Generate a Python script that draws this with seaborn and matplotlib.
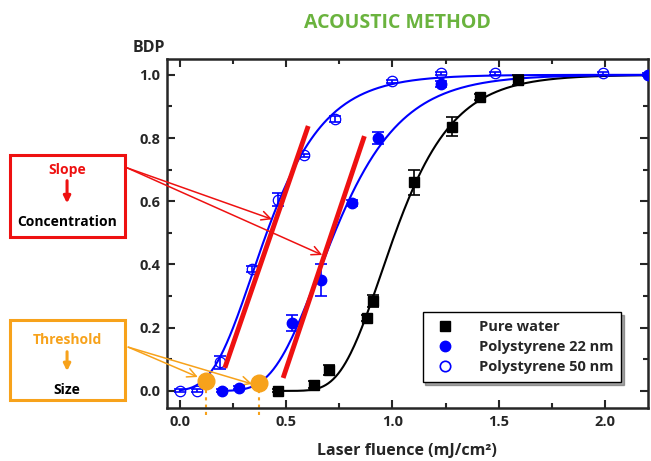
import numpy as np
import pandas as pd
import matplotlib
matplotlib.use("Agg")
import matplotlib.pyplot as plt
from matplotlib.lines import Line2D
from matplotlib.patches import Rectangle
from matplotlib.ticker import MultipleLocator
import seaborn as sns

# Data (BDP vs laser fluence)
water_x = [0.46, 0.63, 0.70, 0.88, 0.91, 1.10, 1.28, 1.41, 1.59]
water_y = [0.00, 0.02, 0.066, 0.23, 0.285, 0.66, 0.835, 0.93, 0.984]
water_err = [0.005, 0.01, 0.015, 0.01, 0.02, 0.04, 0.03, 0.01, 0.015]

ps22_x = [0.20, 0.28, 0.53, 0.665, 0.81, 0.93, 1.23, 2.20]
ps22_y = [0.00, 0.01, 0.215, 0.35, 0.595, 0.80, 0.97, 1.00]
ps22_err = [0.005, 0.005, 0.025, 0.05, 0.01, 0.02, 0.01, 0.005]

ps50_x = [0.00, 0.08, 0.19, 0.34, 0.46, 0.585, 0.73, 1.00, 1.23, 1.48, 1.99]
ps50_y = [0.00, 0.00, 0.09, 0.385, 0.605, 0.745, 0.86, 0.98, 1.005, 1.005, 1.005]
ps50_err = [0.005, 0.005, 0.02, 0.01, 0.02, 0.005, 0.01, 0.005, 0.005, 0.005, 0.005]

# slope tangents and threshold points
slope_x = [[0.212, 0.604], [0.486, 0.868]]
slope_y = [[0.073, 0.838], [0.041, 0.806]]
thresh_x = [0.123, 0.373]
thresh_y = [0.03, 0.025]

BLUE = "#0000ff"
RED = "#ee1111"
ORANGE = "#f7a21b"
GREEN = "#6ab33e"


def gumbel(x, mu, b):
    return np.exp(-np.exp(-(x - mu) / b))


def fit_curve(xs, ys):
    # crude least-squares grid fit of a Gumbel-type CDF
    xs, ys = np.asarray(xs), np.asarray(ys)
    best = None
    for mu in np.linspace(0.0, 1.5, 301):
        for b in np.linspace(0.05, 0.5, 181):
            sse = np.sum((gumbel(xs, mu, b) - ys) ** 2)
            if best is None or sse < best[0]:
                best = (sse, mu, b)
    return best[1], best[2]


sns.set_style("ticks")
plt.rcParams["font.family"] = ["Open Sans", "DejaVu Sans"]
plt.rcParams["font.weight"] = "bold"

fig = plt.figure(figsize=(6.51, 4.61), dpi=100)
ax = fig.add_axes([0.2565, 0.115, 0.7385, 0.757])

series = [
    ("Pure water", water_x, water_y, water_err, "s", "black", "black", 0.46),
    ("Polystyrene 22 nm", ps22_x, ps22_y, ps22_err, "o", BLUE, BLUE, 0.20),
    ("Polystyrene 50 nm", ps50_x, ps50_y, ps50_err, "o", "none", BLUE, 0.0),
]

for name, xs, ys, es, mk, fc, ec, x0 in series:
    mu, b = fit_curve(xs, ys)
    xx = np.linspace(x0, 2.2, 300)
    df = pd.DataFrame({"x": xx, "y": gumbel(xx, mu, b)})
    sns.lineplot(data=df, x="x", y="y", ax=ax, color=ec, lw=1.5, zorder=3)
    ax.errorbar(xs, ys, yerr=es, fmt="none", ecolor=ec, elinewidth=1.2,
                capsize=4, capthick=1.2, zorder=4)
    ax.plot(xs, ys, ls="none", marker=mk, ms=6.5 if mk == "s" else 7.5,
            mfc=fc, mec=ec, mew=0.9 if fc == "none" else 1.0, zorder=5)

for sx, sy in zip(slope_x, slope_y):
    ax.plot(sx, sy, color=RED, lw=3.5, solid_capstyle="butt", zorder=6)

for tx, ty in zip(thresh_x, thresh_y):
    ax.plot([tx, tx], [-0.075, 0.05], color=ORANGE, lw=1.5, ls=(0, (1.5, 2)),
            clip_on=False, zorder=2)
    ax.plot(tx, ty, marker="o", ms=12, color=ORANGE, zorder=7)

ax.set_xlim(-0.06, 2.2)
ax.set_ylim(-0.054, 1.05)
ax.xaxis.set_major_locator(MultipleLocator(0.5))
ax.xaxis.set_minor_locator(MultipleLocator(0.25))
ax.yaxis.set_major_locator(MultipleLocator(0.2))
ax.yaxis.set_minor_locator(MultipleLocator(0.1))
ax.tick_params(which="both", direction="in", top=True, right=True, width=1.5,
               labelsize=10.5, pad=5)
ax.tick_params(which="major", length=6)
ax.tick_params(which="minor", length=3.5)
for lab in ax.get_xticklabels() + ax.get_yticklabels():
    lab.set_fontweight("bold")
for sp in ax.spines.values():
    sp.set_linewidth(1.8)
ax.set_xlabel("Laser fluence (mJ/cm²)", fontsize=11.5, fontweight="bold", labelpad=10)
ax.set_ylabel("")

fig.text(0.61, 0.95, "ACOUSTIC METHOD", color=GREEN, fontsize=14,
         fontweight="bold", ha="center", va="center")
fig.text(0.229, 0.896, "BDP", fontsize=11.5, fontweight="bold", ha="center", va="center")

handles = [
    Line2D([], [], ls="none", marker="s", ms=6.5, color="black"),
    Line2D([], [], ls="none", marker="o", ms=7.5, color=BLUE),
    Line2D([], [], ls="none", marker="o", ms=7.5, mfc="none", mec=BLUE, mew=1.2),
]
leg = ax.legend(handles, [s[0] for s in series], loc="lower right",
                bbox_to_anchor=(0.945, 0.075), frameon=True, fancybox=False,
                shadow=True, edgecolor="black", prop={"weight": "bold", "size": 10.5},
                handletextpad=1.3, borderpad=0.55, labelspacing=0.4, borderaxespad=0)
leg.get_frame().set_linewidth(1.0)

# annotation boxes on the left
fig.patches.append(Rectangle((0.0154, 0.486), 0.177, 0.178, transform=fig.transFigure,
                             fill=False, edgecolor=RED, lw=2.2))
fig.text(0.103, 0.631, "Slope", color=RED, fontsize=10, fontweight="bold", ha="center", va="center")
fig.text(0.103, 0.518, "Concentration", color="black", fontsize=10, fontweight="bold",
         ha="center", va="center")
ax.annotate("", xy=(0.103, 0.553), xytext=(0.103, 0.614), xycoords="figure fraction",
            textcoords="figure fraction",
            arrowprops=dict(arrowstyle="-|>", color=RED, lw=2.2, mutation_scale=10))

fig.patches.append(Rectangle((0.0154, 0.132), 0.177, 0.174, transform=fig.transFigure,
                             fill=False, edgecolor=ORANGE, lw=2.2))
fig.text(0.103, 0.262, "Threshold", color=ORANGE, fontsize=10, fontweight="bold",
         ha="center", va="center")
fig.text(0.103, 0.154, "Size", color="black", fontsize=10, fontweight="bold",
         ha="center", va="center")
ax.annotate("", xy=(0.103, 0.189), xytext=(0.103, 0.243), xycoords="figure fraction",
            textcoords="figure fraction",
            arrowprops=dict(arrowstyle="-|>", color=ORANGE, lw=2.2, mutation_scale=10))

for tgt in [(0.434, 0.543), (0.67, 0.43)]:
    ax.annotate("", xy=tgt, xytext=(0.195, 0.636), textcoords="figure fraction",
                annotation_clip=False,
                arrowprops=dict(arrowstyle="->", color=RED, lw=1.1, mutation_scale=16,
                                shrinkA=0, shrinkB=0))
for tgt in [(0.085, 0.044), (0.34, 0.022)]:
    ax.annotate("", xy=tgt, xytext=(0.197, 0.247), textcoords="figure fraction",
                annotation_clip=False,
                arrowprops=dict(arrowstyle="->", color=ORANGE, lw=1.1, mutation_scale=16,
                                shrinkA=0, shrinkB=0))

fig.savefig("out.png", dpi=100)
